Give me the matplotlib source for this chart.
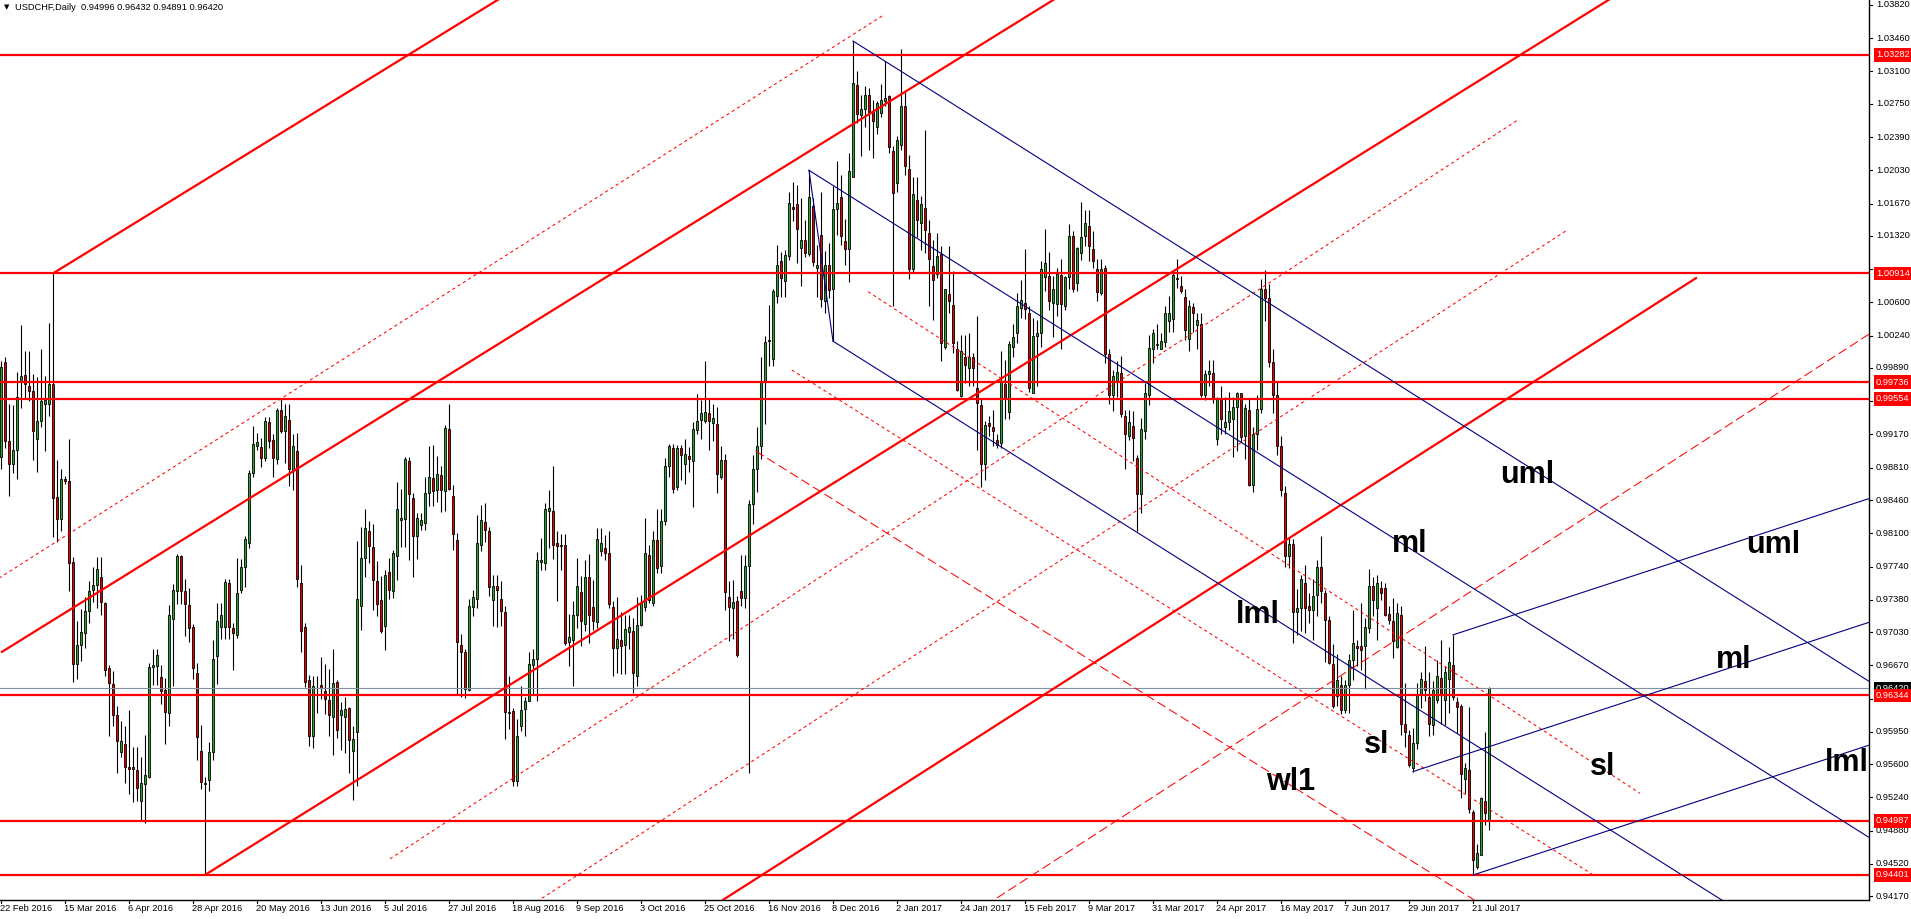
import matplotlib
matplotlib.use("Agg")
import matplotlib.pyplot as plt
import matplotlib.transforms as mtransforms
import numpy as np

# ---------------- data (daily USDCHF candles, bar 0 = 22 Feb 2016) ----------------
opens = [
    .9893, .9995, .9910, .9885, .9900, .9975, .9981, .9970, .9964, .9912,
    .9932, .9950, .9950, .9972, .9849, .9825, .9869, .9867, .9779, .9668,
    .9689, .9702, .9726, .9749, .9754, .9763, .9734, .9664, .9647, .9613,
    .9573, .9582, .9557, .9557, .9554, .9520, .9539, .9546, .9665, .9666,
    .9654, .9640, .9615, .9717, .9747, .9785, .9747, .9732, .9709, .9659,
    .9574, .9540, .9543, .9573, .9677, .9709, .9709, .9756, .9707, .9700,
    .9749, .9774, .9800, .9875, .9905, .9903, .9891, .9930, .9911, .9890,
    .9944, .9921, .9933, .9878, .9899, .9756, .9708, .9651, .9591, .9643,
    .9646, .9639, .9630, .9611, .9649, .9613, .9611, .9621, .9574, .9595,
    .9731, .9783, .9813, .9795, .9758, .9738, .9710, .9768, .9748, .9785,
    .9824, .9826, .9888, .9848, .9807, .9819, .9821, .9854, .9870, .9857,
    .9873, .9856, .9923, .9850, .9803, .9689, .9681, .9640, .9730, .9739,
    .9797, .9822, .9813, .9738, .9753, .9739, .9725, .9617, .9618, .9542,
    .9601, .9620, .9628, .9667, .9674, .9779, .9778, .9834, .9834, .9800,
    .9797, .9797, .9692, .9694, .9722, .9746, .9712, .9763, .9730, .9714,
    .9791, .9794, .9789, .9730, .9686, .9694, .9689, .9703, .9704, .9655,
    .9711, .9730, .9786, .9734, .9803, .9775, .9823, .9883, .9902, .9860,
    .9902, .9885, .9894, .9888, .9922, .9933, .9932, .9940, .9929, .9928,
    .9871, .9889, .9741, .9729, .9737, .9748, .9740, .9775, .9842, .9880,
    .9905, .9974, 1.0019, .9999, 1.0067, 1.0105, 1.0083, 1.0110, 1.0163, 1.0166,
    1.0119, 1.0128, 1.0112, 1.0164, 1.0097, 1.0133, 1.0061, 1.0101, 1.0074, 1.0161,
    1.0174, 1.0127, 1.0118, 1.0196, 1.0295, 1.0263, 1.0269, 1.0285, 1.0267, 1.0250,
    1.0265, 1.0278, 1.0284, 1.0224, 1.0189, 1.0230, 1.0273, 1.0204, 1.0096, 1.0171,
    1.0146, 1.0162, 1.0135, 1.0099, 1.0091, 1.0112, 1.0012, 1.0069, 1.0057, 1.0009,
    .9959, 1.0001, .9989, 1.0001, .9967, .9949, .9885, .9929, .9925, .9911,
    .9908, .9972, .9941, 1.0012, 1.0027, 1.0054, 1.0059, 1.0048, .9962, 1.0024,
    1.0027, 1.0087, 1.0089, 1.0059, 1.0058, 1.0090, 1.0056, 1.0087, 1.0132, 1.0081,
    1.0114, 1.0132, 1.0143, 1.0118, 1.0096, 1.0070, 1.0097, 1.0004, .9960, .9974,
    .9984, .9937, .9915, .9926, .9892, .9853, .9921, .9960, 1.0009, 1.0014,
    1.0010, 1.0017, 1.0040, 1.0042, 1.0086, 1.0078, 1.0066, 1.0020, 1.0055, 1.0036,
    1.0037, .9960, .9982, .9984, .9912, .9955, .9925, .9931, .9934, .9947,
    .9962, .9915, .9944, .9862, .9918, .9945, 1.0075, 1.0065, .9995, .9960,
    .9905, .9854, .9785, .9798, .9725, .9729, .9756, .9731, .9727, .9743,
    .9774, .9745, .9716, .9668, .9634, .9646, .9619, .9646, .9673, .9688,
    .9688, .9688, .9707, .9753, .9729, .9751, .9751, .9723, .9715, .9687,
    .9721, .9604, .9592, .9556, .9583, .9635, .9650, .9633, .9602, .9630,
    .9653, .9630, .9652, .9667, .9627, .9623, .9544, .9554, .9508, .9449,
    .9462, .9520, .94996,
]
highs = [
    .9996, 1.0001, .9950, .9949, .9985, 1.0036, 1.0007, 1.0007, .9982, .9979,
    1.0010, .9980, 1.0038, 1.00914, .9889, .9880, .9872, .9912, .9784, .9715,
    .9728, .9741, .9758, .9773, .9784, .9784, .9736, .9667, .9661, .9623,
    .9607, .9601, .9619, .9579, .9579, .9568, .9592, .9670, .9685, .9685,
    .9667, .9653, .9732, .9755, .9788, .9787, .9760, .9751, .9712, .9670,
    .9602, .9546, .9584, .9695, .9734, .9734, .9761, .9760, .9713, .9783,
    .9782, .9807, .9878, .9926, .9919, .9913, .9936, .9936, .9918, .9946,
    .9955, .9950, .9950, .9918, .9919, .9776, .9713, .9657, .9656, .9655,
    .9676, .9669, .9663, .9685, .9651, .9627, .9633, .9622, .9601, .9802,
    .9817, .9836, .9823, .9820, .9780, .9764, .9770, .9783, .9792, .9865,
    .9858, .9893, .9893, .9854, .9832, .9832, .9871, .9904, .9906, .9894,
    .9883, .9927, .9950, .9862, .9810, .9701, .9685, .9739, .9749, .9830,
    .9841, .9843, .9817, .9765, .9765, .9758, .9731, .9656, .9621, .9609,
    .9645, .9633, .9682, .9685, .9790, .9805, .9843, .9857, .9883, .9813,
    .9809, .9809, .9723, .9737, .9783, .9764, .9781, .9788, .9759, .9816,
    .9816, .9808, .9812, .9737, .9741, .9725, .9721, .9722, .9718, .9741,
    .9743, .9827, .9797, .9813, .9836, .9836, .9892, .9907, .9907, .9906,
    .9906, .9912, .9903, .9930, .9961, .9954, .9996, .9955, .9950, .9947,
    .9905, .9896, .9758, .9759, .9742, .9786, .9787, .9846, .9895, .9925,
    1.0001, 1.0024, 1.0057, 1.0074, 1.0122, 1.0115, 1.0117, 1.0180, 1.0190, 1.0187,
    1.0173, 1.0149, 1.0203, 1.0173, 1.0122, 1.0180, 1.0116, 1.0124, 1.0186, 1.0213,
    1.0198, 1.0150, 1.0222, 1.0343, 1.0310, 1.0285, 1.0294, 1.0292, 1.0279, 1.0278,
    1.0296, 1.0321, 1.0285, 1.0229, 1.0240, 1.0334, 1.0288, 1.0220, 1.0196, 1.0196,
    1.0175, 1.0247, 1.0149, 1.0128, 1.0135, 1.0121, 1.0075, 1.0121, 1.0094, 1.0018,
    1.0025, 1.0025, 1.0027, 1.0005, 1.0045, .9955, .9932, .9937, .9944, .9918,
    1.0007, .9998, 1.0018, 1.0037, 1.0070, 1.0084, 1.0118, 1.0056, 1.0043, 1.0041,
    1.0105, 1.0139, 1.0115, 1.0089, 1.0097, 1.0107, 1.0089, 1.0145, 1.0137, 1.0120,
    1.0169, 1.0160, 1.0160, 1.0137, 1.0107, 1.0107, 1.0100, 1.0009, .9987, .9996,
    1.0002, .9944, .9943, .9942, .9895, .9935, .9973, 1.0025, 1.0031, 1.0037,
    1.0027, 1.0056, 1.0067, 1.0095, 1.0107, 1.0089, 1.0074, 1.0063, 1.0059, 1.0048,
    1.0048, .9987, .9998, .9998, .9958, .9969, .9958, .9963, .9958, .9963,
    .9962, .9950, .9956, .9925, .9960, 1.0085, 1.0095, 1.0080, 1.0010, .9975,
    .9915, .9861, .9805, .9804, .9750, .9765, .9776, .9745, .9760, .9781,
    .9807, .9749, .9720, .9690, .9679, .9655, .9651, .9679, .9727, .9695,
    .9734, .9718, .9771, .9763, .9765, .9758, .9756, .9731, .9740, .9734,
    .9731, .9648, .9597, .9599, .9648, .9660, .9688, .9660, .9650, .9673,
    .9695, .9666, .9687, .9700, .9633, .9625, .9561, .9622, .9510, .9474,
    .9525, .9595, .96432,
]
lows = [
    .9880, .9902, .9850, .9875, .9869, .9946, .9957, .9953, .9889, .9876,
    .9925, .9899, .9937, .9806, .9801, .9813, .9863, .9747, .9649, .9652,
    .9672, .9686, .9713, .9736, .9729, .9721, .9655, .9590, .9601, .9551,
    .9568, .9540, .9528, .9519, .9520, .9498, .9496, .9545, .9646, .9646,
    .9625, .9582, .9601, .9645, .9733, .9733, .9699, .9692, .9652, .9565,
    .9533, .94401, .9531, .9565, .9647, .9696, .9696, .9696, .9662, .9697,
    .9745, .9752, .9794, .9871, .9900, .9882, .9888, .9902, .9871, .9885,
    .9919, .9886, .9861, .9857, .9752, .9681, .9644, .9580, .9577, .9615,
    .9631, .9614, .9591, .9570, .9588, .9575, .9572, .9550, .9521, .9536,
    .9705, .9763, .9778, .9727, .9720, .9702, .9684, .9739, .9740, .9759,
    .9795, .9795, .9781, .9763, .9782, .9814, .9814, .9840, .9840, .9844,
    .9833, .9834, .9857, .9792, .9635, .9633, .9632, .9639, .9720, .9729,
    .9791, .9801, .9742, .9710, .9709, .9710, .9587, .9598, .9536, .9536,
    .9596, .9591, .9628, .9636, .9628, .9770, .9770, .9794, .9782, .9737,
    .9770, .9689, .9666, .9645, .9707, .9688, .9704, .9691, .9705, .9707,
    .9785, .9781, .9729, .9656, .9659, .9658, .9658, .9685, .9637, .9645,
    .9710, .9726, .9735, .9731, .9767, .9767, .9819, .9871, .9854, .9857,
    .9868, .9863, .9876, .9839, .9917, .9912, .9929, .9900, .9910, .9854,
    .9869, .9727, .9693, .9696, .9676, .9731, .9729, .9550, .9820, .9855,
    .9890, .9928, .9991, .9991, 1.0059, 1.0066, 1.0066, 1.0106, 1.0148, 1.0103,
    1.0078, 1.0109, 1.0110, 1.0099, 1.0066, 1.0055, 1.0048, 1.0065, 1.0018, 1.0133,
    1.0122, 1.0101, 1.0082, 1.0196, 1.0254, 1.0219, 1.0250, 1.0225, 1.0216, 1.0242,
    1.0261, 1.0273, 1.0222, 1.0056, 1.0179, 1.0225, 1.0198, 1.0085, 1.0092, 1.0131,
    1.0117, 1.0113, 1.0056, 1.0041, 1.0086, .9996, 1.0010, 1.0048, 1.0005, .9964,
    .9958, .9973, .9969, .9969, .9900, .9860, .9868, .9915, .9905, .9902,
    .9902, .9934, .9934, 1.0001, 1.0016, 1.0043, 1.0042, .9963, .9962, .9969,
    1.0012, 1.0072, 1.0052, 1.0023, 1.0045, 1.0009, 1.0052, 1.0075, 1.0071, 1.0072,
    1.0106, 1.0121, 1.0105, 1.0097, 1.0061, 1.0068, .9994, .9950, .9942, .9958,
    .9936, .9880, .9911, .9888, .9812, .9832, .9912, .9949, .9994, 1.0009,
    1.0009, 1.0012, 1.0028, 1.0028, 1.0076, 1.0070, 1.0019, 1.0007, 1.0028, 1.0009,
    .9958, .9954, .9969, .9951, .9906, .9918, .9917, .9922, .9893, .9899,
    .9909, .9890, .9861, .9855, .9900, .9940, 1.0040, .9990, .9940, .9895,
    .9850, .9774, .9772, .9691, .9700, .9704, .9702, .9713, .9695, .9720,
    .9734, .9671, .9668, .9621, .9623, .9614, .9615, .9615, .9651, .9666,
    .9662, .9641, .9702, .9720, .9695, .9738, .9720, .9712, .9675, .9686,
    .9592, .9579, .9557, .9552, .9576, .9621, .9628, .9591, .9592, .9626,
    .9603, .9602, .9615, .9630, .9594, .9523, .9529, .9507, .94401, .9447,
    .9462, .9494, .94891,
]
closes = [
    .9990, .9910, .9885, .9900, .9958, .9980, .9972, .9964, .9921, .9932,
    .9953, .9954, .9972, .9848, .9825, .9869, .9867, .9778, .9668, .9689,
    .9703, .9726, .9748, .9754, .9771, .9736, .9662, .9648, .9613, .9585,
    .9585, .9557, .9555, .9555, .9534, .9540, .9548, .9665, .9667, .9678,
    .9639, .9616, .9721, .9749, .9785, .9747, .9733, .9707, .9664, .9589,
    .9541, .9539, .9573, .9674, .9715, .9722, .9757, .9708, .9702, .9745,
    .9774, .9804, .9875, .9907, .9909, .9892, .9932, .9910, .9891, .9944,
    .9921, .9937, .9880, .9904, .9761, .9704, .9649, .9590, .9645, .9642,
    .9642, .9631, .9613, .9648, .9597, .9619, .9620, .9586, .9587, .9739,
    .9783, .9816, .9796, .9759, .9733, .9704, .9765, .9749, .9789, .9836,
    .9827, .9890, .9852, .9807, .9827, .9824, .9854, .9871, .9856, .9874,
    .9857, .9924, .9858, .9809, .9692, .9681, .9641, .9731, .9741, .9800,
    .9824, .9814, .9752, .9753, .9749, .9726, .9617, .9615, .9542, .9591,
    .9619, .9628, .9668, .9674, .9781, .9781, .9836, .9837, .9797, .9796,
    .9796, .9691, .9698, .9722, .9753, .9715, .9763, .9722, .9715, .9804,
    .9800, .9789, .9733, .9686, .9696, .9688, .9706, .9708, .9659, .9711,
    .9734, .9789, .9738, .9803, .9772, .9823, .9883, .9905, .9858, .9902,
    .9895, .9896, .9890, .9923, .9932, .9940, .9941, .9932, .9935, .9874,
    .9889, .9746, .9730, .9736, .9678, .9740, .9775, .9842, .9880, .9905,
    .9974, 1.0017, 1.0018, 1.0072, 1.0100, 1.0086, 1.0111, 1.0168, 1.0161, 1.0139,
    1.0128, 1.0113, 1.0174, 1.0104, 1.0101, 1.0064, 1.0100, 1.0073, 1.0161, 1.0168,
    1.0132, 1.0118, 1.0202, 1.0297, 1.0264, 1.0269, 1.0285, 1.0266, 1.0256, 1.0276,
    1.0279, 1.0281, 1.0228, 1.0178, 1.0236, 1.0273, 1.0208, 1.0096, 1.0177, 1.0149,
    1.0167, 1.0138, 1.0107, 1.0084, 1.0110, 1.0016, 1.0074, 1.0061, 1.0016, .9965,
    1.0007, .9992, 1.0001, .9989, .9951, .9885, .9927, .9926, .9921, .9906,
    .9974, .9955, 1.0015, 1.0023, 1.0056, 1.0063, 1.0053, .9967, 1.0024, 1.0027,
    1.0096, 1.0103, 1.0061, 1.0075, 1.0091, 1.0058, 1.0087, 1.0132, 1.0074, 1.0119,
    1.0131, 1.0146, 1.0121, 1.0105, 1.0071, 1.0096, 1.0004, .9960, .9980, .9985,
    .9939, .9917, .9931, .9913, .9853, .9923, .9962, 1.0011, 1.0027, 1.0015,
    1.0018, 1.0048, 1.0048, 1.0090, 1.0085, 1.0072, 1.0030, 1.0056, 1.0049, 1.0041,
    .9960, .9982, .9986, .9955, .9957, .9934, .9931, .9942, .9947, .9962,
    .9914, .9946, .9862, .9918, .9945, 1.0075, 1.0065, .9995, .9960, .9905,
    .9857, .9785, .9798, .9725, .9729, .9760, .9729, .9727, .9742, .9774,
    .9747, .9716, .9670, .9623, .9651, .9619, .9646, .9673, .9691, .9686,
    .9684, .9709, .9753, .9738, .9756, .9745, .9722, .9716, .9693, .9724,
    .9604, .9595, .9559, .9583, .9635, .9652, .9640, .9604, .9640, .9656,
    .9636, .9660, .9671, .9633, .9622, .9549, .9556, .9511, .9456, .9464,
    .9523, .9507, .96420,
]

date_labels = ["22 Feb 2016", "15 Mar 2016", "6 Apr 2016", "28 Apr 2016", "20 May 2016",
               "13 Jun 2016", "5 Jul 2016", "27 Jul 2016", "18 Aug 2016", "9 Sep 2016",
               "3 Oct 2016", "25 Oct 2016", "16 Nov 2016", "8 Dec 2016", "2 Jan 2017",
               "24 Jan 2017", "15 Feb 2017", "9 Mar 2017", "31 Mar 2017", "24 Apr 2017",
               "16 May 2017", "7 Jun 2017", "29 Jun 2017", "21 Jul 2017"]
date_bars = [16 * k for k in range(len(date_labels))]

price_ticks = [1.03820, 1.03460, 1.03100, 1.02750, 1.02390, 1.02030, 1.01670, 1.01320,
               1.00960, 1.00600, 1.00240, 0.99890, 0.99530, 0.99170, 0.98810, 0.98460,
               0.98100, 0.97740, 0.97380, 0.97030, 0.96670, 0.96310, 0.95950, 0.95600,
               0.95240, 0.94880, 0.94520, 0.94170]

hlines = [1.03282, 1.00914, 0.99736, 0.99554, 0.96344, 0.94987, 0.94401]
bid_price = 0.96420

# trend lines: (bar0, price0, bar1, price1)
thick_red = [(13, 1.00914, 125, 1.03897), (0, 0.9681, 264, 1.0390),
             (51, 0.94401, 403, 1.03905), (170, 0.9384, 424, 1.0087)]
dotted_red = [(-1, 0.9760, 220.75, 1.03714), (97.25, 0.94575, 378.9, 1.02567),
              (130, 0.9400, 391.8, 1.01391),
              (216.75, 1.00716, 409.75, 0.95285), (197.7, 0.99868, 398.1, 0.94400)]
dashed_red = [(240, 0.9390, 470, 1.0034), (188.65, 0.98991, 372, 0.9403)]
navy = [(213, 1.0343, 468, 0.9647), (202, 1.0203, 468, 0.9478), (208, 1.0018, 468, 0.9310),
        (202, 1.0203, 208, 1.0018),
        (363, 0.9700, 468, 0.9849), (353, 0.9552, 468, 0.9715), (368, 0.9440, 468, 0.9582)]

# text labels: (text, bar, baseline price)
labels = [("uml", 374.75, 0.98645), ("ml", 347.7, 0.97901), ("lml", 308.75, 0.97126),
          ("uml", 436.4, 0.97890), ("ml", 428.75, 0.96638), ("lml", 456.0, 0.95530),
          ("sl", 340.6, 0.95718), ("sl", 397.25, 0.95483), ("wl1", 316.2, 0.95321)]

title = "USDCHF,Daily  0.94996 0.96432 0.94891 0.96420"

# ---------------- drawing ----------------
FW, FH = 1911, 919
AXW, AXH = 1869, 899.5
fig = plt.figure(figsize=(FW / 100, FH / 100), dpi=100, facecolor="white")
ax = fig.add_axes([0, 1 - AXH / FH, AXW / FW, AXH / FH])
ax.set_xlim(-0.25, 467.0)
ax.set_ylim(0.94135, 1.03874)
ax.set_facecolor("white")
for s in ["top", "left"]:
    ax.spines[s].set_visible(False)
for s in ["right", "bottom"]:
    ax.spines[s].set_color("black")
    ax.spines[s].set_linewidth(1.0)
ax.set_xticks([])
ax.set_yticks([])

RED = "#ff0000"
GREEN = "#2aa52a"
BEAR = "#e00000"
NAVY = "#000080"

o = np.array(opens); h = np.array(highs); l = np.array(lows); c = np.array(closes)
idx = np.arange(len(o))
up = c >= o
ax.vlines(idx, l, h, color="black", lw=0.8, zorder=3)
bottom = np.minimum(o, c)
height = np.maximum(np.abs(c - o), 0.00004)
ax.bar(idx, height, bottom=bottom, width=0.55,
       color=[GREEN if u else BEAR for u in up],
       edgecolor="black", linewidth=0.6, zorder=4)

# horizontal lines
for p in hlines:
    ax.axhline(p, color=RED, lw=1.6, zorder=5)
ax.axhline(bid_price, color="#8090a0", lw=0.8, zorder=5)

for (b0, p0, b1, p1) in thick_red:
    ax.plot([b0, b1], [p0, p1], color=RED, lw=1.6, zorder=5, solid_capstyle="butt")
for (b0, p0, b1, p1) in dotted_red:
    ax.plot([b0, b1], [p0, p1], color=RED, lw=0.75, zorder=5, dashes=(3, 3))
for (b0, p0, b1, p1) in dashed_red:
    ax.plot([b0, b1], [p0, p1], color=RED, lw=0.75, zorder=5, dashes=(9, 4))
for (b0, p0, b1, p1) in navy:
    ax.plot([b0, b1], [p0, p1], color=NAVY, lw=0.8, zorder=5)

for (t, b, p) in labels:
    ax.text(b, p, t, fontsize=22, fontweight="bold", family="Liberation Sans",
            color="black", ha="left", va="baseline", zorder=7, clip_on=False)

# right price scale
ytrans = mtransforms.blended_transform_factory(ax.transAxes, ax.transData)
boxed = hlines + [bid_price]
for p in price_ticks:
    ax.plot([1.0, 1.0 + 3 / AXW], [p, p], transform=ytrans, color="black", lw=0.8,
            clip_on=False, zorder=8)
    # labels hidden behind a price box are not drawn
    if min(abs(p - q) for q in boxed) < 0.0007:
        continue
    ax.text(1.0 + 7 / AXW, p, f"{p:.5f}", transform=ytrans, fontsize=6.7,
            family="Liberation Sans", va="center", ha="left", zorder=8, clip_on=False)

def price_box(p, fc, zo):
    ax.text(1.0 + 7 / AXW, p, f"{p:.5f}", transform=ytrans, fontsize=6.7,
            family="Liberation Sans", color="white", va="center", ha="left",
            zorder=zo, clip_on=False,
            bbox=dict(boxstyle="square,pad=0.25", fc=fc, ec="none"))

price_box(bid_price, "black", 9)
for p in hlines:
    price_box(p, RED, 10)

# bottom date scale
xtrans = mtransforms.blended_transform_factory(ax.transData, ax.transAxes)
for b, t in zip(date_bars, date_labels):
    ax.plot([b, b], [0, -3 / AXH], transform=xtrans, color="black", lw=0.8, clip_on=False)
    ax.text(b - 0.3, -9 / AXH, t, transform=xtrans, fontsize=6.7, family="Liberation Sans",
            va="center", ha="left", clip_on=False)

# header
fig.text(4 / FW, 1 - 7 / FH, "\u25BC", fontsize=5, family="DejaVu Sans", va="center", ha="left")
fig.text(15 / FW, 1 - 7 / FH, title, fontsize=6.7, family="Liberation Sans",
         va="center", ha="left")

fig.savefig("out.png", dpi=100, facecolor="white")
